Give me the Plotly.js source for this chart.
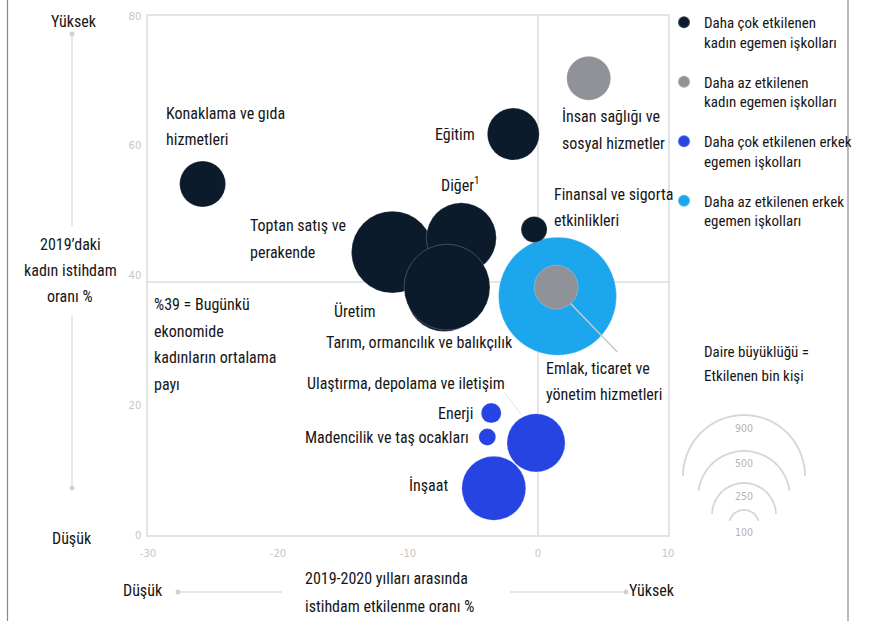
<!DOCTYPE html>
<html>
<head>
<meta charset="utf-8">
<script src="https://cdn.plot.ly/plotly-3.0.1.min.js"></script>
<style>
html,body{margin:0;padding:0;background:#fff;}
#chart{width:883px;height:621px;}
text.annotation-text, text.legendtext { font-stretch: condensed !important; }
</style>
</head>
<body>
<div id="chart"></div>
<script>
// ---------------- DATA ----------------
const categories = [
  "Konaklama ve gıda hizmetleri",
  "Eğitim",
  "İnsan sağlığı ve sosyal hizmetler",
  "Toptan satış ve perakende",
  "Tarım, ormancılık ve balıkçılık",
  "Diğer",
  "Üretim",
  "Finansal ve sigorta etkinlikleri",
  "Emlak, ticaret ve yönetim hizmetleri",
  "Emlak, ticaret ve yönetim hizmetleri (kadın egemen)",
  "Ulaştırma, depolama ve iletişim",
  "Enerji",
  "Madencilik ve taş ocakları",
  "İnşaat"
];
// 2019-2020 istihdam etkilenme oranı %
const impactRate = [-25.8, -1.9, 3.9, -11.2, -7.2, -5.9, -7.0, -0.3, 1.5, 1.4, -0.15, -3.6, -3.9, -3.4];
// 2019'daki kadın istihdam oranı %
const womenShare = [54.1, 61.8, 70.4, 43.6, 37.2, 45.8, 38.2, 47.1, 36.8, 38.2, 14.2, 18.8, 15.1, 7.2];
// Etkilenen bin kişi
const affected = [235, 300, 215, 745, 640, 545, 820, 75, 1545, 215, 375, 45, 32, 455];
// group: 0 = çok etkilenen kadın, 1 = az etkilenen kadın, 2 = çok etkilenen erkek, 3 = az etkilenen erkek
const group = [0, 0, 1, 0, 0, 0, 0, 0, 3, 1, 2, 2, 2, 2];
const groupNames = [
  "Daha çok etkilenen<br>kadın egemen işkolları",
  "Daha az etkilenen<br>kadın egemen işkolları",
  "Daha çok etkilenen erkek<br>egemen işkolları",
  "Daha az etkilenen erkek<br>egemen işkolları"
];
const groupColors = ["#0b1b2c", "#8f9398", "#2644e2", "#1ca6ee"];
const avgWomenShare = 39;
const xTicks = [-30, -20, -10, 0, 10];
const yTicks = [0, 20, 40, 60, 80];
const sizeLegendValues = [900, 500, 250, 100];

// ---------------- LAYOUT HELPERS ----------------
const FONT = "'Roboto Condensed', 'DejaVu Sans Condensed', 'Liberation Sans Narrow', 'DejaVu Sans', sans-serif";
const ML = 148, MT = 16, PW = 520, PH = 519, FW = 883, FH = 621;
const PX = p => (p - ML) / PW;
const PY = p => (MT + PH - p) / PH;
const TXT = "#161616";

// draw order: light blue, grey, dark, blue
const drawOrder = [3, 1, 0, 2];
const legendRank = {0: 1, 1: 2, 2: 3, 3: 4};
const traces = drawOrder.map(g => {
  const idx = categories.map((_, i) => i).filter(i => group[i] === g);
  return {
    type: "scatter", mode: "markers",
    name: groupNames[g], legendgroup: "g" + g, legendrank: legendRank[g],
    x: idx.map(i => impactRate[i]), y: idx.map(i => womenShare[i]),
    text: idx.map(i => categories[i]), customdata: idx.map(i => affected[i]),
    hovertemplate: "%{text}<br>x: %{x}<br>y: %{y}<br>%{customdata} bin kişi<extra></extra>",
    marker: {
      color: groupColors[g], size: idx.map(i => affected[i]),
      sizemode: "area", sizeref: 200 / 900, sizemin: 2,
      opacity: 1,
      line: {color: "rgba(255,255,255,0.22)", width: 1}
    }
  };
});

// ---------------- LABELS ----------------
const labels = [
  {lines: ["Konaklama ve gıda", "hizmetleri"], x: -28.8, y: 63.0, xa: "left"},
  {lines: ["Eğitim"], x: -4.7, y: 61.8, xa: "right"},
  {lines: ["İnsan sağlığı ve", "sosyal hizmetler"], x: 1.7, y: 62.4, xa: "left"},
  {lines: ["Diğer<sup>1</sup>"], x: -6.0, y: 54.1, xa: "center"},
  {lines: ["Finansal ve sigorta", "etkinlikleri"], x: 1.1, y: 50.5, xa: "left"},
  {lines: ["Toptan satış ve", "perakende"], x: -22.3, y: 45.6, xa: "left"},
  {lines: ["%39 = Bugünkü", "ekonomide", "kadınların ortalama", "payı"], x: -29.7, y: 29.4, xa: "left"},
  {lines: ["Üretim"], x: -14.1, y: 34.5, xa: "center"},
  {lines: ["Tarım, ormancılık ve balıkçılık"], x: -16.5, y: 29.7, xa: "left"},
  {lines: ["Emlak, ticaret ve", "yönetim hizmetleri"], x: 0.45, y: 23.7, xa: "left"},
  {lines: ["Ulaştırma, depolama ve iletişim"], x: -2.4, y: 23.3, xa: "right"},
  {lines: ["Enerji"], x: -4.85, y: 18.8, xa: "right"},
  {lines: ["Madencilik ve taş ocakları"], x: -5.15, y: 15.1, xa: "right"},
  {lines: ["İnşaat"], x: -6.8, y: 7.7, xa: "right"}
];
const annotations = [];
const LINE = 26.5;
labels.forEach(l => {
  const n = l.lines.length;
  l.lines.forEach((t, i) => {
    annotations.push({
      x: l.x, y: l.y, xref: "x", yref: "y", text: t, showarrow: false,
      xanchor: l.xa, yanchor: "middle", yshift: -(i - (n - 1) / 2) * LINE,
      font: {family: FONT, size: 16, color: TXT}
    });
  });
});

// paper-space texts
function ptext(t, px, py, xa, size, color) {
  annotations.push({x: PX(px), y: PY(py), xref: "paper", yref: "paper", text: t, showarrow: false,
    xanchor: xa || "center", yanchor: "middle", font: {family: FONT, size: size || 16, color: color || TXT}});
}
ptext("Yüksek", 74, 22);
ptext("2019’daki", 70, 244);
ptext("kadın istihdam", 70, 270);
ptext("oranı %", 70, 296);
ptext("Düşük", 72, 538);
ptext("Düşük", 143, 590);
ptext("2019-2020 yılları arasında", 303, 578, "left");
ptext("istihdam etkilenme oranı %", 303, 606, "left");
ptext("Yüksek", 652, 590);
ptext("Daire büyüklüğü =", 702, 352, "left", 15);
ptext("Etkilenen bin kişi", 702, 376, "left", 15);

// ---------------- SHAPES ----------------
const shapes = [];
const GRID = "#dcdcdc";
shapes.push({type: "line", xref: "x", yref: "y", x0: xTicks[0], x1: xTicks[xTicks.length - 1], y0: avgWomenShare, y1: avgWomenShare,
  line: {color: GRID, width: 1.5}, layer: "below"});
shapes.push({type: "line", xref: "x", yref: "y", x0: 0, x1: 0, y0: yTicks[0], y1: yTicks[yTicks.length - 1],
  line: {color: GRID, width: 1.5}, layer: "below"});
// leader lines
shapes.push({type: "line", xref: "x", yref: "y", x0: 2.5, y0: 35.7, x1: 6.1, y1: 28.2, line: {color: "#c9c9c9", width: 1.5}});
shapes.push({type: "line", xref: "x", yref: "y", x0: -2.6, y0: 22.0, x1: -1.3, y1: 18.6, line: {color: "#e2e2e2", width: 1}});

// frame lines
shapes.push({type: "line", xref: "paper", yref: "paper", x0: PX(7.5), x1: PX(7.5), y0: PY(FH + 5), y1: PY(-5), line: {color: "#8a8a8a", width: 1.2}});
shapes.push({type: "line", xref: "paper", yref: "paper", x0: PX(848), x1: PX(848), y0: PY(FH + 5), y1: PY(-5), line: {color: "#8a8a8a", width: 1.2}});

// axis direction guides
const GUIDE = "#e8e8e8";
function pline(x0, y0, x1, y1) {
  shapes.push({type: "line", xref: "paper", yref: "paper", x0: PX(x0), y0: PY(y0), x1: PX(x1), y1: PY(y1), line: {color: GUIDE, width: 2}});
}
function pdot(x, y) {
  shapes.push({type: "circle", xref: "paper", yref: "paper", xsizemode: "pixel", ysizemode: "pixel",
    xanchor: PX(x), yanchor: PY(y), x0: -2.5, x1: 2.5, y0: -2.5, y1: 2.5,
    fillcolor: "#d2d2d2", line: {width: 0}});
}
pline(72, 34, 72, 226); pline(72, 316, 72, 488); pdot(72, 34); pdot(72, 488);
pline(178, 592, 282, 592); pline(510, 592, 626, 592); pdot(178, 592); pdot(626, 592);

// size legend arcs
const arcs = [
  {r: 61, cy: 476, ly: 428, a0: 0, a1: 180},
  {r: 46, cy: 497, ly: 463, a0: 8, a1: 172},
  {r: 32, cy: 515, ly: 496, a0: 2, a1: 178},
  {r: 15, cy: 525, ly: 532, a0: 15, a1: 165}
];
const acx = 744;
arcs.forEach((a, k) => {
  let d = "";
  for (let s = 0; s <= 60; s++) {
    const ang = (a.a0 + (a.a1 - a.a0) * s / 60) * Math.PI / 180;
    const px = acx + a.r * Math.cos(ang), py = a.cy - a.r * Math.sin(ang);
    d += (s === 0 ? "M" : " L") + PX(px).toFixed(5) + "," + PY(py).toFixed(5);
  }
  shapes.push({type: "path", xref: "paper", yref: "paper", path: d, line: {color: "#d6d6d6", width: 1.8}});
  annotations.push({x: PX(acx), y: PY(a.ly), xref: "paper", yref: "paper", text: String(sizeLegendValues[k]),
    showarrow: false, xanchor: "center", yanchor: "middle", font: {family: "DejaVu Sans", size: 10.5, color: "#b5b5b5"}});
});

const layout = {
  width: FW, height: FH,
  margin: {l: ML, r: FW - ML - PW, t: MT, b: FH - MT - PH, autoexpand: false},
  paper_bgcolor: "#fff", plot_bgcolor: "#fff",
  font: {family: FONT, color: TXT},
  showlegend: true,
  legend: {
    x: PX(664), xanchor: "left", y: PY(6), yanchor: "top",
    font: {family: FONT, size: 15, color: TXT}, valign: "top",
    traceorder: "grouped", tracegroupgap: 17.5, itemsizing: "constant", bgcolor: "rgba(0,0,0,0)"
  },
  xaxis: {
    range: [xTicks[0], xTicks[xTicks.length - 1]], tickvals: xTicks, ticktext: xTicks.map(String),
    showgrid: false, zeroline: false, showline: true, mirror: true, linecolor: "#e3e3e3", linewidth: 1.5,
    ticks: "", ticklabelstandoff: 8,
    tickfont: {family: "DejaVu Sans", size: 10, color: "#c6c6c6"}, fixedrange: true
  },
  yaxis: {
    range: [yTicks[0], yTicks[yTicks.length - 1]], tickvals: yTicks, ticktext: yTicks.map(String),
    showgrid: false, zeroline: false, showline: true, mirror: true, linecolor: "#e3e3e3", linewidth: 1.5,
    ticks: "", ticklabelstandoff: 3,
    tickfont: {family: "DejaVu Sans", size: 10, color: "#c6c6c6"}, fixedrange: true
  },
  annotations: annotations,
  shapes: shapes
};

Plotly.newPlot("chart", traces, layout, {displayModeBar: false});
</script>
</body>
</html>
